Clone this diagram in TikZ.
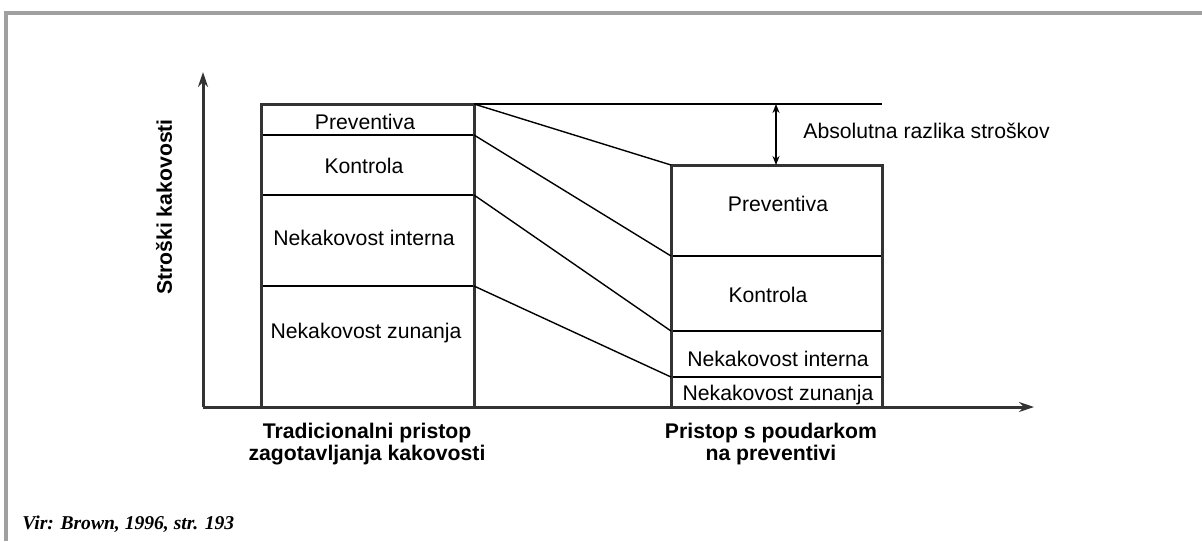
\documentclass[tikz,border=0pt]{standalone}
\usepackage{fontspec}
\setmainfont{Liberation Sans}
\newfontfamily\srcfont{Liberation Serif}
\usepackage{xcolor}
\usetikzlibrary{arrows.meta, positioning, calc}
\definecolor{axisgray}{HTML}{333333}
\definecolor{framegray}{HTML}{A0A0A0}

\begin{document}
\begin{tikzpicture}[x=0.5pt, y=-0.5pt,
  axis/.style={line width=1.5pt, axisgray},
  barbox/.style={line width=1.5pt, axisgray},
  divider/.style={line width=0.8pt, black},
  link/.style={line width=0.7pt, black},
  lbl/.style={font=\fontsize{10.6}{13}\selectfont, inner sep=0pt, anchor=base},
  caption/.style={font=\fontsize{10.6}{11}\selectfont\bfseries, align=center, inner sep=0pt, anchor=base}]
  \useasboundingbox (0,0) rectangle (1202,541);

  % Frame
  \draw[framegray, line width=2pt] (6,541) -- (6,13) -- (1202,13);

  % Axes
  \coordinate (O) at (203,407);
  \coordinate (Y) at (203,72);
  \coordinate (X) at (1034,407);
  \draw[axis, -{Stealth[length=7.5pt, width=5pt]}] (O) -- (Y);
  \draw[axis, -{Stealth[length=7.5pt, width=5pt]}] (O) -- (X);

  % Left bar corners and levels
  \coordinate (A1) at (261,104);
  \coordinate (A2) at (474,104);
  \coordinate (A3) at (474,135);
  \coordinate (A4) at (474,195);
  \coordinate (A5) at (474,286);
  \coordinate (A6) at (474,407);

  % Right bar corners and levels
  \coordinate (B1) at (671,165);
  \coordinate (B2) at (882,165);
  \coordinate (B3) at (671,256);
  \coordinate (B4) at (671,331);
  \coordinate (B5) at (671,377);
  \coordinate (B6) at (882,407);

  % Draw bars
  \draw[divider] (261,135) -- (A3);
  \draw[divider] (261,195) -- (A4);
  \draw[divider] (261,286) -- (A5);
  \draw[barbox] (A1) rectangle (A6);
  \draw[divider] (B3) -- (882,256);
  \draw[divider] (B4) -- (882,331);
  \draw[divider] (B5) -- (882,377);
  \draw[barbox] (B1) rectangle (B6);

  % Connecting lines
  \draw[link] (A2) -- (B1);
  \draw[link] (A3) -- (B3);
  \draw[link] (A4) -- (B4);
  \draw[link] (A5) -- (B5);

  % Difference marker
  \coordinate (T) at (882,104);
  \coordinate (D1) at (776,104);
  \coordinate (D2) at (776,165);
  \draw[link] (A2) -- (T);
  \draw[link, {Stealth[length=4.5pt, width=3.5pt]}-{Stealth[length=4.5pt, width=3.5pt]}] (D1) -- (D2);
  \node[lbl, anchor=base west] (diff) at (803,138) {Absolutna razlika stroškov};

  % Labels left bar
  \node[lbl] (lprev) at (365,129) {Preventiva};
  \node[lbl] (lkon) at (364,173) {Kontrola};
  \node[lbl] (lint) at (364,245) {Nekakovost interna};
  \node[lbl] (lzun) at (366,338) {Nekakovost zunanja};

  % Labels right bar
  \node[lbl] (rprev) at (778,211) {Preventiva};
  \node[lbl] (rkon) at (768,302) {Kontrola};
  \node[lbl] (rint) at (778,366) {Nekakovost interna};
  \node[lbl] (rzun) at (778,400) {Nekakovost zunanja};

  % Axis captions
  \node[caption] (trad) at (367,460) {Tradicionalni pristop\\zagotavljanja kakovosti};
  \node[caption] (prev) at (771,460) {Pristop s poudarkom\\na preventivi};
  \node[font=\fontsize{10.6}{13}\selectfont\bfseries, rotate=90, inner sep=0pt] (ylab) at (164,207) {Stroški kakovosti};

  % Source
  \node[font=\fontsize{9.8}{12}\selectfont\srcfont\bfseries\itshape, inner sep=0pt, anchor=base west] (src) at (22,529) {Vir: Brown, 1996, str. 193};
\end{tikzpicture}
\end{document}
